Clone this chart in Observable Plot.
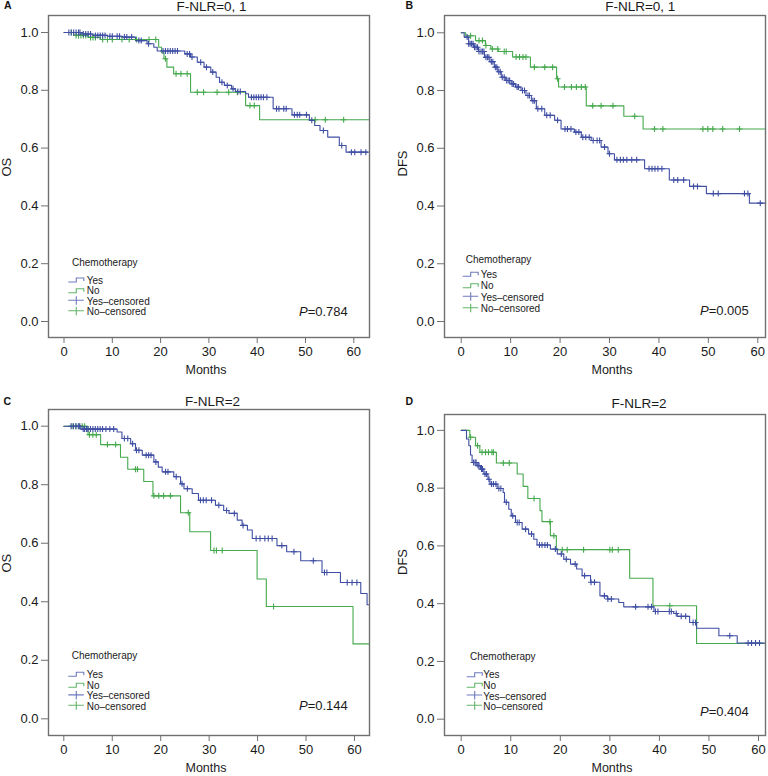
<!DOCTYPE html>
<html>
<head>
<meta charset="utf-8">
<script src="https://cdn.jsdelivr.net/npm/d3@7"></script>
<script src="https://cdn.jsdelivr.net/npm/@observablehq/plot@0.6"></script>
<style>
  body { margin: 0; background: #fff; }
  #root { position: relative; width: 768px; height: 776px; overflow: hidden; font-family: "Liberation Sans", Arial, sans-serif; }
  #root > svg.panel { position: absolute; }
  #overlay { position: absolute; left: 0; top: 0; pointer-events: none; }
</style>
</head>
<body>
<div id="root"></div>
<script>
// ---------- tick labels & texts ----------
const monthTicks = [0, 10, 20, 30, 40, 50, 60];
const survTicks = [0, 0.2, 0.4, 0.6, 0.8, 1.0];
const panelLetters = ["A", "B", "C", "D"];
const panelTitles = ["F-NLR=0, 1", "F-NLR=0, 1", "F-NLR=2", "F-NLR=2"];
const yLabels = ["OS", "DFS", "OS", "DFS"];
const pValues = ["0.784", "0.005", "0.144", "0.404"];
const legendTitle = "Chemotherapy";
const legendItems = ["Yes", "No", "Yes\u2013censored", "No\u2013censored"];

// ---------- Panel A : OS, F-NLR=0,1 ----------
const A_yes_time = [3.5, 6, 9, 12, 14.8, 17.2, 18.6, 19.3, 25, 26.2, 27.6, 29, 30.4, 31.5, 32.2, 33.2, 34.7, 35.5, 37.6, 38.2, 43.3, 47.2, 50.8, 51.9, 53, 54.6, 57, 58.4];
const A_yes_surv = [0.995, 0.99, 0.987, 0.984, 0.972, 0.961, 0.949, 0.936, 0.926, 0.915, 0.897, 0.88, 0.863, 0.845, 0.828, 0.817, 0.805, 0.796, 0.788, 0.776, 0.736, 0.715, 0.696, 0.678, 0.661, 0.638, 0.609, 0.586];
const A_yes_end = 62.8;
const A_yes_cens = [1, 1.5, 2, 2.5, 3, 3.3, 4, 4.5, 5, 5.5, 6.5, 7, 7.5, 8, 8.5, 9.5, 10, 11, 11.5, 12.5, 13, 14, 15.5, 16, 17.5, 20.5, 21, 21.5, 22, 22.5, 23, 23.5, 25.5, 26, 26.5, 28.3, 29.5, 30.8, 32.7, 33.8, 35, 36, 36.5, 38.8, 39.3, 39.8, 40.3, 40.8, 41.3, 42, 44, 44.5, 45.5, 46, 47.7, 48.3, 48.8, 50.2, 51.3, 53.7, 57.5, 59.5, 60.2, 61.5, 62.5];
const A_no_time = [2, 5, 7.5, 19.6, 20.2, 20.7, 21.3, 22.7, 26.2, 37.6, 40.5];
const A_no_surv = [0.99, 0.983, 0.976, 0.949, 0.93, 0.909, 0.88, 0.857, 0.793, 0.747, 0.698];
const A_no_end = 63.2;
const A_no_cens = [1.5, 2.5, 3, 3.5, 4, 4.5, 5.5, 6, 6.5, 8, 9, 10, 12, 13.5, 15, 17.6, 19, 21, 23.2, 24.2, 25.5, 27.6, 28.9, 31.7, 34.1, 35.9, 38.5, 39.4, 52, 54.1, 57.9];

// ---------- Panel B : DFS, F-NLR=0,1 ----------
const B_yes_time = [0.6, 1.5, 2.5, 3.5, 4.7, 5.8, 6.7, 7.4, 8.1, 9.0, 10.1, 11.0, 12.1, 13.1, 14.2, 15.2, 16.9, 18.9, 20.2, 22.9, 24.3, 26.3, 28.3, 29.7, 31, 37.1, 42.1, 46.2, 49.6, 58.3];
const B_yes_surv = [0.985, 0.962, 0.95, 0.935, 0.915, 0.9, 0.881, 0.865, 0.846, 0.835, 0.823, 0.812, 0.8, 0.783, 0.765, 0.737, 0.714, 0.697, 0.667, 0.656, 0.638, 0.627, 0.604, 0.581, 0.56, 0.529, 0.49, 0.468, 0.443, 0.41];
const B_yes_end = 61.6;
const B_yes_cens = [1.2, 1.5, 1.8, 2.1, 2.4, 2.7, 3, 3.3, 3.6, 4, 4.3, 4.6, 5, 5.3, 5.6, 6.1, 6.4, 6.9, 7.2, 7.6, 7.9, 8.3, 8.7, 9.2, 9.5, 9.8, 10.3, 10.6, 11.3, 11.6, 12.4, 12.8, 13.5, 13.8, 14.5, 14.8, 15.5, 16.3, 17.3, 18, 19.5, 21, 21.5, 22.2, 23.2, 23.8, 24.6, 25.2, 25.9, 26.7, 27.5, 28, 29, 30, 31.5, 32.2, 32.8, 33.5, 34.5, 35.5, 38, 38.6, 39.2, 39.8, 40.6, 43, 43.8, 45, 47, 47.8, 51, 52, 57.3, 58, 60.5];
const B_no_time = [0.9, 2.9, 4.9, 6, 7.5, 10.4, 14, 19.3, 19.7, 25.3, 32.9, 36.8];
const B_no_surv = [0.99, 0.973, 0.956, 0.944, 0.935, 0.916, 0.881, 0.841, 0.812, 0.747, 0.711, 0.667];
const B_no_end = 61.6;
const B_no_cens = [1.9, 3.6, 4.3, 5.0, 6.3, 7.4, 8.7, 9.1, 11.1, 11.8, 12.5, 13.1, 14.8, 16.9, 18.5, 19.5, 20.9, 22.3, 23.3, 24.3, 25.1, 26.6, 28.3, 30.7, 35.1, 39.1, 40.8, 48.9, 49.9, 50.9, 52.9, 56.3];

// ---------- Panel C : OS, F-NLR=2 ----------
const C_yes_time = [3.5, 11, 12, 13.8, 14.8, 16.2, 18.6, 19.5, 20.3, 22.7, 24.1, 24.8, 26.5, 27.8, 31.3, 33, 34.1, 35.8, 36.8, 37.9, 38.9, 44, 46, 48.9, 53.3, 57.1, 61.3, 62.6];
const C_yes_surv = [0.99, 0.98, 0.958, 0.94, 0.918, 0.901, 0.878, 0.86, 0.844, 0.827, 0.803, 0.786, 0.77, 0.747, 0.73, 0.712, 0.702, 0.679, 0.661, 0.645, 0.616, 0.592, 0.571, 0.54, 0.5, 0.466, 0.428, 0.39];
const C_yes_end = 63.1;
const C_yes_cens = [1.5, 2, 2.5, 3, 3.3, 4, 4.3, 4.7, 5, 5.5, 6, 6.5, 7, 7.5, 8, 8.7, 9.5, 10.3, 12.5, 13.2, 14.2, 15, 15.5, 17, 17.5, 18, 19, 21, 21.5, 23.2, 24.4, 25.5, 28.2, 28.8, 29.4, 30.5, 32, 33.6, 35.2, 37, 39.7, 40.5, 41.5, 42.2, 43, 45, 47.5, 51.5, 53.8, 54.3, 58.5, 59.5, 60.5];
const C_no_time = [5, 7.6, 11.7, 13.2, 16.5, 18.4, 24.1, 26, 30.3, 39.9, 41.8, 59.7];
const C_no_surv = [0.971, 0.937, 0.894, 0.853, 0.811, 0.762, 0.704, 0.639, 0.575, 0.478, 0.384, 0.256];
const C_no_end = 63.1;
const C_no_cens = [1.7, 2.5, 3.2, 3.8, 4.3, 5.3, 6, 6.7, 9, 10.7, 14.8, 15.2, 18.6, 19.6, 20.6, 22, 25.7, 31, 31.5, 32.7, 43.3];

// ---------- Panel D : DFS, F-NLR=2 ----------
const D_yes_time = [1.07, 1.54, 1.88, 2.2, 3.2, 3.9, 4.57, 5.4, 5.8, 7.26, 8.47, 8.74, 9.6, 10.1, 10.96, 12.3, 13.6, 14.65, 15.3, 18, 19.4, 20.7, 22.06, 23.3, 24.4, 26.1, 28, 29.5, 31.8, 32.8, 38.9, 42.9, 43.6, 46.1, 47.5, 52, 55.7];
const D_yes_surv = [0.97, 0.947, 0.915, 0.889, 0.878, 0.866, 0.849, 0.831, 0.814, 0.799, 0.785, 0.751, 0.727, 0.704, 0.681, 0.658, 0.641, 0.623, 0.603, 0.589, 0.572, 0.554, 0.537, 0.52, 0.497, 0.474, 0.427, 0.416, 0.404, 0.389, 0.373, 0.366, 0.356, 0.335, 0.315, 0.289, 0.264];
const D_yes_end = 61.4;
const D_yes_cens = [2.5, 2.8, 3.0, 3.4, 3.6, 4.1, 4.3, 4.8, 5.1, 5.6, 6.1, 6.5, 7.0, 7.6, 8.0, 9.1, 10.4, 11.3, 11.7, 13, 14.2, 15.8, 16.3, 16.9, 17.4, 19, 20.2, 21.2, 23, 24.9, 26.2, 26.9, 28.9, 29.6, 30.3, 35.2, 37.7, 38.4, 39.2, 39.7, 42, 42.4, 43.4, 44.4, 45.3, 46.8, 47.3, 54.2, 57.9, 58.6, 59.4, 60.2];
const D_no_time = [1.74, 2.9, 3.76, 7.1, 11.3, 12.5, 13.45, 15.9, 16.3, 18, 19.2, 34, 38.7, 47.5];
const D_no_surv = [0.976, 0.947, 0.924, 0.887, 0.849, 0.806, 0.764, 0.722, 0.684, 0.635, 0.587, 0.488, 0.393, 0.262];
const D_no_end = 61.4;
const D_no_cens = [1.9, 3.3, 4.2, 4.9, 5.5, 6.2, 6.5, 8.5, 9.7, 14.7, 17.9, 18.7, 20.4, 21.4, 24.7, 30, 30.5, 31.7, 42.1];

// ---------- styling ----------
const BLUE = "#3f4ea3";
const GREEN = "#45a94d";
const BLUE_LEG = "#6f7bc0";
const GREEN_LEG = "#62b56a";
const FRAME = "#707070";
const FONT = "'Liberation Sans', Arial, sans-serif";

const plusSymbol = {
  draw(ctx, size) {
    const r = Math.sqrt(size / Math.PI);
    ctx.moveTo(-r, 0); ctx.lineTo(r, 0);
    ctx.moveTo(0, -r); ctx.lineTo(0, r);
  }
};

function curve(times, surv, end) {
  const pts = [{t: 0, s: 1}];
  times.forEach((t, i) => pts.push({t, s: surv[i]}));
  pts.push({t: end, s: surv[surv.length - 1]});
  return pts;
}
function censored(times, surv, cens) {
  return cens.map(t => {
    let s = 1;
    for (let i = 0; i < times.length; i++) if (times[i] <= t) s = surv[i];
    return {t, s};
  });
}

const panels = [
  {left: 0, top: 0, mL: 48, mR: 15, mT: 15, mB: 51, xd: [-3.21, 63.25], yd: [-0.0554, 1.0588], mdx: -3,
   yes: [A_yes_time, A_yes_surv, A_yes_end, A_yes_cens], no: [A_no_time, A_no_surv, A_no_end, A_no_cens]},
  {left: 384, top: 0, mL: 60, mR: 3, mT: 15, mB: 51, xd: [-3.38, 61.56], yd: [-0.0554, 1.0599], mdx: 7,
   yes: [B_yes_time, B_yes_surv, B_yes_end, B_yes_cens], no: [B_no_time, B_no_surv, B_no_end, B_no_cens]},
  {left: 0, top: 388, mL: 48, mR: 15, mT: 21, mB: 41, xd: [-3.16, 63.1], yd: [-0.057, 1.057], mdx: -3,
   yes: [C_yes_time, C_yes_surv, C_yes_end, C_yes_cens], no: [C_no_time, C_no_surv, C_no_end, C_no_cens]},
  {left: 384, top: 388, mL: 60, mR: 3, mT: 26, mB: 41, xd: [-3.37, 61.41], yd: [-0.0565, 1.055], mdx: 7,
   yes: [D_yes_time, D_yes_surv, D_yes_end, D_yes_cens], no: [D_no_time, D_no_surv, D_no_end, D_no_cens]}
];

const root = document.getElementById("root");

panels.forEach((p, i) => {
  const [yt, ys, ye, yc] = p.yes;
  const [nt, ns, ne, nc] = p.no;
  const chart = Plot.plot({
    width: 384,
    height: 388,
    marginLeft: p.mL, marginRight: p.mR, marginTop: p.mT, marginBottom: p.mB,
    style: {fontFamily: FONT, fontSize: "13px", color: "#1a1a1a", background: "transparent", overflow: "visible"},
    x: {domain: p.xd},
    y: {domain: p.yd},
    marks: [
      Plot.axisX({ticks: monthTicks, tickSize: 6, tickPadding: 3, stroke: FRAME, label: null, tickFormat: d => String(d)}),
      Plot.axisY({ticks: survTicks, tickSize: 7, tickPadding: 3, stroke: FRAME, label: null, tickFormat: d3.format(".1f")}),
      Plot.text(["Months"], {frameAnchor: "bottom", dy: 36, dx: p.mdx, text: d => d, fontSize: 12.5, fill: "#1a1a1a"}),
      Plot.text([yLabels[i]], {frameAnchor: "left", dx: -42, rotate: -90, text: d => d, fontSize: 13, fill: "#1a1a1a"}),
      Plot.line(curve(nt, ns, ne), {x: "t", y: "s", curve: "step-after", stroke: GREEN, strokeWidth: 1.1}),
      Plot.line(curve(yt, ys, ye), {x: "t", y: "s", curve: "step-after", stroke: BLUE, strokeWidth: 1.1}),
      Plot.dot(censored(nt, ns, nc), {x: "t", y: "s", symbol: plusSymbol, r: 3, fill: "none", stroke: GREEN, strokeWidth: 1.1}),
      Plot.dot(censored(yt, ys, yc), {x: "t", y: "s", symbol: plusSymbol, r: 3, fill: "none", stroke: BLUE, strokeWidth: 1.1}),
      Plot.frame({stroke: FRAME, strokeWidth: 1.4})
    ]
  });
  chart.classList.add("panel");
  chart.style.left = p.left + "px";
  chart.style.top = p.top + "px";
  root.appendChild(chart);
});

// ---------- overlay: panel letters, titles, legends, P values ----------
const overlayLayout = [
  {letter: [4, 5], title: [211.5, 6], chem: [72, 262], glyph: 68.3, text: 86.7, rows: [280, 290.7, 301.3, 311.7], p: [299, 311]},
  {letter: [405.5, 5], title: [640.3, 6], chem: [465.7, 259], glyph: 462.7, text: 480.7, rows: [274.3, 285.8, 297.3, 308.7], p: [700, 310]},
  {letter: [3.5, 401.5], title: [212.5, 401.7], chem: [71.7, 655.7], glyph: 68.3, text: 86.7, rows: [674.3, 685.3, 695.9, 706.3], p: [299, 705]},
  {letter: [405.5, 401.5], title: [639, 403], chem: [470, 656.7], glyph: 466.7, text: 483.3, rows: [674.7, 685.3, 696, 706.3], p: [700, 711.7]}
];

const ov = d3.select(root).append("svg")
  .attr("id", "overlay").attr("width", 768).attr("height", 776)
  .style("font-family", FONT);

overlayLayout.forEach((L, i) => {
  ov.append("text").attr("x", L.letter[0]).attr("y", L.letter[1]).attr("dy", "0.35em")
    .attr("font-size", 10.5).attr("font-weight", "bold").attr("fill", "#111").text(panelLetters[i]);
  ov.append("text").attr("x", L.title[0]).attr("y", L.title[1]).attr("dy", "0.35em")
    .attr("text-anchor", "middle").attr("font-size", 13.5).attr("fill", "#1a1a1a").text(panelTitles[i]);
  ov.append("text").attr("x", L.chem[0]).attr("y", L.chem[1]).attr("dy", "0.35em")
    .attr("font-size", 10).attr("fill", "#1a1a1a").text(legendTitle);
  const cols = [BLUE_LEG, GREEN_LEG, BLUE_LEG, GREEN_LEG];
  legendItems.forEach((item, k) => {
    const y = L.rows[k], x0 = L.glyph;
    if (k < 2) {
      ov.append("path").attr("d", `M${x0},${y + 2} H${x0 + 8} V${y - 2} H${x0 + 15.5} V${y + 1}`)
        .attr("fill", "none").attr("stroke", cols[k]).attr("stroke-width", 1.1);
    } else {
      ov.append("path").attr("d", `M${x0},${y - 1} H${x0 + 15.5} M${x0 + 8},${y - 5} V${y + 3.5}`)
        .attr("fill", "none").attr("stroke", cols[k]).attr("stroke-width", 1.1);
    }
    ov.append("text").attr("x", L.text).attr("y", y).attr("dy", "0.35em")
      .attr("font-size", 10).attr("fill", "#1a1a1a").text(item);
  });
  const pt = ov.append("text").attr("x", L.p[0]).attr("y", L.p[1]).attr("dy", "0.35em")
    .attr("font-size", 13).attr("fill", "#1a1a1a");
  pt.append("tspan").attr("font-style", "italic").text("P");
  pt.append("tspan").text("=" + pValues[i]);
});
</script>
</body>
</html>
